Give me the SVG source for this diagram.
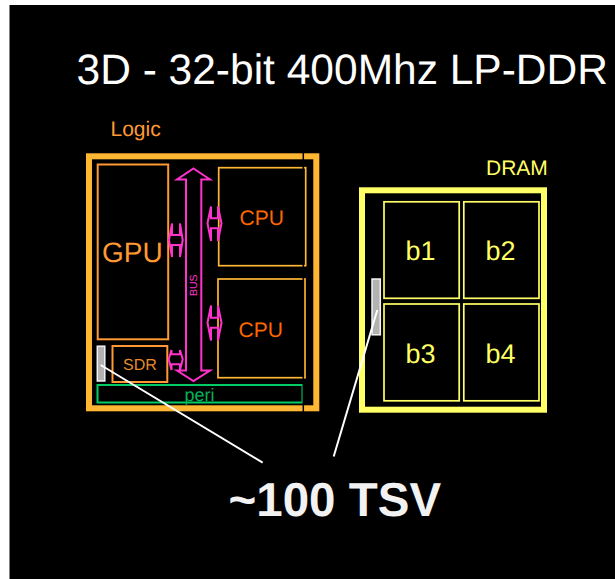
<svg xmlns="http://www.w3.org/2000/svg" width="615" height="579" viewBox="0 0 615 579">
<style>
text{font-family:"Liberation Sans",Arial,sans-serif;text-rendering:geometricPrecision}
.pks{fill:none;stroke:#ff33cc;stroke-width:2}
.tsv{fill:#b2b2b2;stroke:#f2f2f2;stroke-width:1.5}
.bk{fill:none;stroke:#ffff66;stroke-width:1.700}
.bl{font-size:27px;fill:#ffff66}
.cpu{font-size:21px;fill:#ff6600}
.lead{stroke:#fff;stroke-width:2;fill:none}
</style>
<rect width="615" height="579" fill="#fff"/>
<rect x="9.500" y="5" width="605.500" height="574" fill="#000"/>
<g id="title"><text x="76.500" y="83.500" font-size="42.500" fill="#fff">3D - 32-bit 400Mhz LP-DDR</text></g>
<g id="logic">
<text x="110.500" y="136" font-size="21" fill="#ff9933">Logic</text>
<rect x="89" y="156.300" width="227.300" height="252" fill="none" stroke="#ffb733" stroke-width="6"/>
<g id="gpu"><rect x="97.700" y="164.500" width="70.500" height="174.800" fill="none" stroke="#ff9933" stroke-width="2"/><text x="102" y="262" font-size="28" fill="#ff9933">GPU</text></g>
<g id="cpu1"><rect x="218.700" y="167.700" width="87" height="98" fill="none" stroke="#ffb733" stroke-width="1.700"/><text class="cpu" x="239.500" y="225">CPU</text></g>
<g id="cpu2"><rect x="218" y="279" width="87" height="98.700" fill="none" stroke="#ffb733" stroke-width="1.700"/><text class="cpu" x="238.500" y="337">CPU</text></g>
<g id="sdr"><rect x="112.500" y="346" width="54.800" height="36" fill="none" stroke="#ff9933" stroke-width="2"/><text x="123" y="370" font-size="16" fill="#e68a2e">SDR</text></g>
<g id="peri"><rect x="97.500" y="385" width="205" height="17.500" fill="none" stroke="#00cc66" stroke-width="2"/><text x="184.500" y="401" font-size="18" fill="#00b359">peri</text></g>
<line x1="303.300" y1="153" x2="303.300" y2="412" stroke="#000" stroke-width="1.500"/>
<g id="bus"><path class="pks" d="M193.500 168.500L210 179.500H201.300V370.500H210L193.500 381L177 370.500H186V179.500H177Z"/><text transform="translate(197 296) rotate(-90)" font-size="10.500" fill="#ff33cc">BUS</text></g>
<g id="link-gpu"><path class="pks" d="M169 240L172 223.500V235H180V223.500L182.700 240L180 257V245H172V257Z"/></g>
<g id="link-cpu1"><path class="pks" d="M207.500 223.300L211 206.500V218.300H218V206.500L221.500 223.300L218 241V228.300H211V241Z"/></g>
<g id="link-cpu2"><path class="pks" d="M207.500 322.700L211 305.500V317.700H218V305.500L221.500 322.700L218 340.500V327.700H211V340.500Z"/></g>
<g id="link-sdr"><path class="pks" d="M168.700 359.300L171.500 350V354.300H180V350L182.700 359.300L180 370V364.300H171.500V370Z"/></g>
<g id="tsv-logic"><rect class="tsv" x="97.300" y="346.200" width="7.500" height="34.800"/></g>
</g>
<g id="dram">
<text x="486" y="175" font-size="21" fill="#ffff66">DRAM</text>
<rect x="362" y="190.300" width="182" height="219.400" fill="none" stroke="#ffff66" stroke-width="6"/>
<g id="b1"><rect class="bk" x="384" y="201.800" width="75.200" height="96.500"/><text class="bl" x="405.500" y="260">b1</text></g>
<g id="b2"><rect class="bk" x="463.800" y="201.800" width="75.200" height="96.500"/><text class="bl" x="485.500" y="260">b2</text></g>
<g id="b3"><rect class="bk" x="384" y="304" width="75.200" height="96.800"/><text class="bl" x="405.500" y="362.500">b3</text></g>
<g id="b4"><rect class="bk" x="463.800" y="304" width="75.200" height="96.800"/><text class="bl" x="485.500" y="362.500">b4</text></g>
<g id="tsv-dram"><rect class="tsv" x="372" y="279" width="8.300" height="55.800"/></g>
</g>
<g id="connectors">
<line class="lead" x1="100.700" y1="365" x2="262.700" y2="462.700"/>
<line class="lead" x1="377.300" y1="310" x2="333.700" y2="456.500"/>
</g>
<g id="label"><text x="228.500" y="516" font-size="47.500" font-weight="bold" fill="#f2f2f2">~100 TSV</text></g>
</svg>
